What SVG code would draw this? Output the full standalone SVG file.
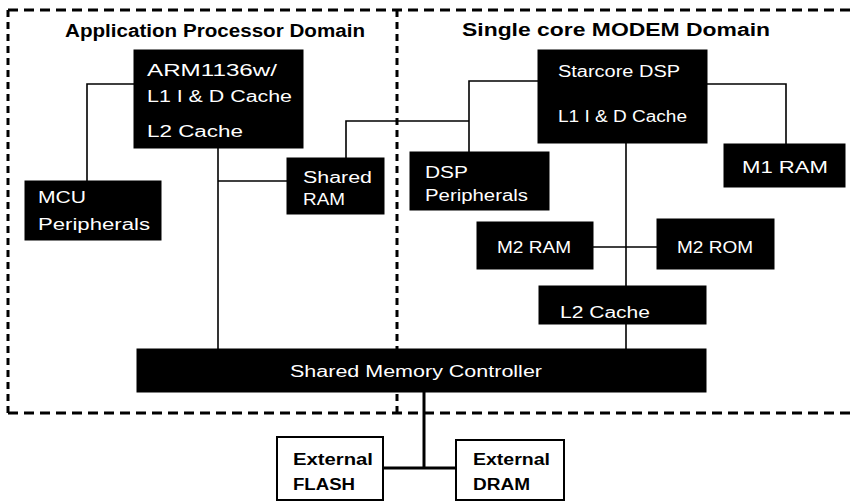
<svg xmlns="http://www.w3.org/2000/svg" width="852" height="502" viewBox="0 0 852 502">
<style>
.bg{fill:#fff}
.dash{stroke:#000;stroke-width:3;fill:none;stroke-dasharray:10 6}
.vdash{stroke:#000;stroke-width:3;fill:none;stroke-dasharray:7 5}
.box{fill:#000;stroke:#000;stroke-width:1}
.ext{fill:#fff;stroke:#000;stroke-width:2}
.wire{stroke:#000;stroke-width:1.6;fill:none}
.thick{stroke:#000;stroke-width:3;fill:none}
.t{font-family:"Liberation Sans",Arial,sans-serif;font-size:16px;fill:#fff}
.tb{font-family:"Liberation Sans",Arial,sans-serif;font-size:16px;font-weight:bold;fill:#000}
.title{font-family:"Liberation Sans",Arial,sans-serif;font-size:18px;font-weight:bold;fill:#000}
</style>
<rect class="bg" x="0" y="0" width="852" height="502"/>
<g id="domains">
<line class="dash" x1="8" y1="10" x2="852" y2="10"/>
<line class="dash" x1="8" y1="413" x2="852" y2="413"/>
<line class="vdash" x1="8" y1="10" x2="8" y2="413"/>
<line class="vdash" x1="397" y1="10" x2="397" y2="413"/>
<text class="title" x="65" y="37" textLength="300" lengthAdjust="spacingAndGlyphs">Application Processor Domain</text>
<text class="title" x="462" y="36" textLength="308" lengthAdjust="spacingAndGlyphs">Single core MODEM Domain</text>
</g>
<g id="connectors">
<polyline class="wire" points="134,84 87,84 87,181"/>
<line class="wire" x1="218" y1="148" x2="218" y2="349"/>
<line class="wire" x1="218" y1="181" x2="287" y2="181"/>
<polyline class="wire" points="346,158 346,121 469,121"/>
<polyline class="wire" points="538,81 469,81 469,152"/>
<polyline class="wire" points="707,84 786,84 786,144"/>
<line class="wire" x1="626" y1="143" x2="626" y2="351"/>
<line class="wire" x1="593" y1="247" x2="657" y2="247"/>
<line class="thick" x1="424" y1="392" x2="424" y2="468"/>
<line class="thick" x1="383" y1="468" x2="456" y2="468"/>
</g>
<g id="arm">
<rect class="box" x="134" y="50" width="169" height="98"/>
<text class="t" x="147" y="76" textLength="130" lengthAdjust="spacingAndGlyphs">ARM1136w/</text>
<text class="t" x="147" y="102" textLength="145" lengthAdjust="spacingAndGlyphs">L1 I &amp; D Cache</text>
<text class="t" x="147" y="137" textLength="96" lengthAdjust="spacingAndGlyphs">L2 Cache</text>
</g>
<g id="mcu">
<rect class="box" x="25" y="181" width="136" height="59"/>
<text class="t" x="38" y="203" textLength="48" lengthAdjust="spacingAndGlyphs">MCU</text>
<text class="t" x="38" y="230" textLength="112" lengthAdjust="spacingAndGlyphs">Peripherals</text>
</g>
<g id="shared-ram">
<rect class="box" x="287" y="158" width="97" height="56"/>
<text class="t" x="303" y="183" textLength="69" lengthAdjust="spacingAndGlyphs">Shared</text>
<text class="t" x="303" y="205" textLength="42" lengthAdjust="spacingAndGlyphs">RAM</text>
</g>
<g id="starcore">
<rect class="box" x="538" y="50" width="169" height="93"/>
<text class="t" x="558" y="77" textLength="122" lengthAdjust="spacingAndGlyphs">Starcore DSP</text>
<text class="t" x="558" y="122" textLength="129" lengthAdjust="spacingAndGlyphs">L1 I &amp; D Cache</text>
</g>
<g id="dsp-periph">
<rect class="box" x="410" y="152" width="139" height="58"/>
<text class="t" x="425" y="178" textLength="43" lengthAdjust="spacingAndGlyphs">DSP</text>
<text class="t" x="425" y="201" textLength="103" lengthAdjust="spacingAndGlyphs">Peripherals</text>
</g>
<g id="m1ram">
<rect class="box" x="724" y="144" width="121" height="43"/>
<text class="t" x="742" y="173" textLength="86" lengthAdjust="spacingAndGlyphs">M1 RAM</text>
</g>
<g id="m2ram">
<rect class="box" x="477" y="222" width="116" height="47"/>
<text class="t" x="497" y="253" textLength="74" lengthAdjust="spacingAndGlyphs">M2 RAM</text>
</g>
<g id="m2rom">
<rect class="box" x="657" y="219" width="117" height="50"/>
<text class="t" x="677" y="253" textLength="76" lengthAdjust="spacingAndGlyphs">M2 ROM</text>
</g>
<g id="l2cache">
<rect class="box" x="539" y="286" width="167" height="38"/>
<text class="t" x="560" y="318" textLength="90" lengthAdjust="spacingAndGlyphs">L2 Cache</text>
</g>
<g id="smc">
<rect class="box" x="137" y="349" width="569" height="43"/>
<text class="t" x="290" y="377" textLength="252" lengthAdjust="spacingAndGlyphs">Shared Memory Controller</text>
</g>
<g id="flash">
<rect class="ext" x="277" y="437" width="106" height="63"/>
<text class="tb" x="293" y="465" textLength="80" lengthAdjust="spacingAndGlyphs">External</text>
<text class="tb" x="293" y="490" textLength="62" lengthAdjust="spacingAndGlyphs">FLASH</text>
</g>
<g id="dram">
<rect class="ext" x="456" y="440" width="108" height="60"/>
<text class="tb" x="473" y="465" textLength="77" lengthAdjust="spacingAndGlyphs">External</text>
<text class="tb" x="473" y="490" textLength="57" lengthAdjust="spacingAndGlyphs">DRAM</text>
</g>
</svg>
